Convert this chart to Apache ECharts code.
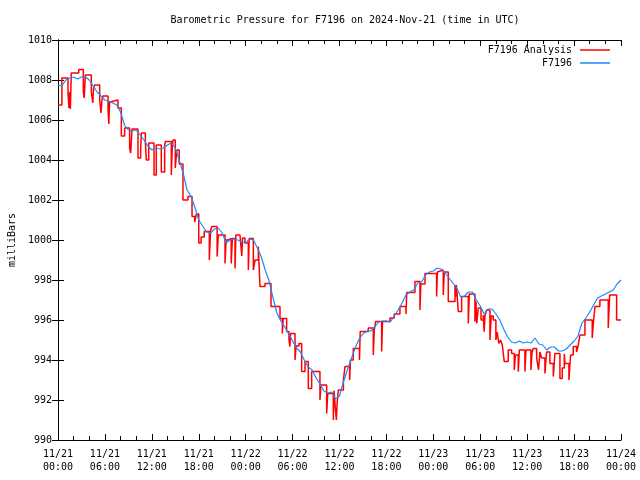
<!DOCTYPE html>
<html>
<head>
<meta charset="utf-8">
<script src="https://cdn.jsdelivr.net/npm/echarts@6/dist/echarts.min.js"></script>
<style>html,body{margin:0;padding:0;background:#fff}#c{width:640px;height:480px}</style>
</head>
<body>
<div id="c"></div>
<script>
// X tick labels (hours from 2024-11-21 00:00 UTC, every 6 h)
var xDates = ['11/21','11/21','11/21','11/21','11/22','11/22','11/22','11/22','11/23','11/23','11/23','11/23','11/24'];
var xTimes = ['00:00','06:00','12:00','18:00','00:00','06:00','12:00','18:00','00:00','06:00','12:00','18:00','00:00'];

// F7196 (blue), sampled every 0.5 h from 0 to 72 h
var blueStep = 0.5;
var blueValues = [
1007.75,1007.7,1008.0,1008.1,1008.15,1008.05,1008.15,1008.15,1008.0,1007.7,
1007.4,1007.2,1007.0,1006.95,1006.85,1006.75,1006.4,1005.75,1005.5,1005.45,
1005.5,1005.25,1005.0,1004.7,1004.5,1004.6,1004.55,1004.6,1004.75,1004.85,
1004.6,1004.0,1003.35,1002.5,1002.2,1001.65,1001.0,1000.7,1000.4,1000.35,
1000.55,1000.6,1000.35,999.85,1000.0,1000.05,1000.0,999.9,999.85,1000.05,
1000.0,999.6,999.15,998.5,997.95,997.1,996.35,995.95,995.65,995.3,
994.95,994.6,994.4,994.0,993.65,993.5,993.1,992.8,992.45,992.35,
992.4,992.05,992.2,992.9,993.5,994.05,994.6,995.05,995.3,995.45,
995.45,995.65,995.9,995.95,995.95,995.9,996.2,996.5,996.85,997.25,
997.4,997.5,997.85,997.9,998.25,998.4,998.45,998.6,998.55,998.35,
998.1,997.85,997.6,997.15,997.2,997.4,997.4,997.0,996.7,996.3,
996.55,996.55,996.3,996.0,995.55,995.15,994.9,994.85,994.95,994.85,
994.9,994.85,995.1,994.8,994.75,994.5,994.65,994.65,994.45,994.45,
994.55,994.75,994.95,995.2,995.85,996.1,996.4,996.75,997.1,997.2,
997.3,997.4,997.5,997.8,998.0
];

// F7196 Analysis (red), step values: time in hours, value in mb
var redTimes = [
0,0.5,1.28,1.4,1.5,1.58,1.7,2.65,3.24,3.35,3.5,4.26,4.45,4.55,4.7,5.33,5.5,5.62,5.75,6.4,
6.5,6.6,6.75,7.67,8.1,8.52,9.16,9.3,9.46,10.23,10.57,10.66,11.17,11.3,11.6,12.28,12.57,13.21,13.64,13.73,
14.49,14.6,14.7,15.0,15.2,15.5,15.98,16.62,17.14,17.48,17.69,18.0,18.3,18.7,19.35,19.5,19.65,20.35,20.5,20.72,
21.36,21.5,21.78,22.15,22.3,22.64,22.75,23.27,23.5,23.6,23.91,24.34,24.45,24.98,25.2,25.62,25.83,26.47,27.24,28.39,
28.69,28.8,29.24,29.54,29.65,29.75,30.31,30.45,30.82,31.16,31.59,32.01,32.44,33.5,33.62,34.36,34.5,35.21,35.3,35.42,
35.6,35.7,35.85,36.5,36.7,37.3,37.4,37.76,38.55,38.65,39.68,40.32,40.45,40.62,41.39,41.5,42.45,43.0,43.73,44.5,
44.6,45.65,46.29,46.4,46.93,48.42,48.52,48.63,49.27,49.4,49.91,50.77,50.85,50.95,51.19,51.62,52.47,52.6,53.32,53.45,
53.55,53.75,54.1,54.39,54.5,54.6,54.81,55.24,55.4,55.66,56.0,56.15,56.39,56.6,56.82,57.07,57.58,58.01,58.35,58.5,
58.86,59.0,59.71,59.85,60.48,60.62,60.78,61.21,61.45,61.63,61.85,62.27,62.48,62.91,63.34,63.55,64.19,64.49,64.75,64.83,
65.34,65.55,65.89,66.32,66.5,66.75,67.39,68.32,68.5,68.67,69.3,70.37,70.55,71.44,72.0
];
var redValues = [
1006.75,1008.1,1007.35,1006.6,1007.4,1006.55,1008.35,1008.53,1007.4,1007.1,1008.25,1007.4,1006.85,1007.6,1007.75,1007.0,1006.35,1007.0,1007.2,1006.5,
1005.8,1006.9,1007.0,1006.6,1005.2,1005.6,1004.6,1004.35,1005.55,1004.1,1004.5,1005.35,1004.9,1004.0,1004.85,1003.25,1004.75,1003.4,1004.75,1004.92,
1003.25,1004.5,1005.0,1003.6,1004.5,1003.8,1002.0,1002.17,1001.17,1000.9,1001.3,999.85,1000.15,1000.42,999.0,1000.42,1000.67,999.17,1000.25,1000.25,
998.83,1000.0,1000.08,998.83,1000.08,998.58,1000.25,1000.25,999.2,1000.1,999.85,998.5,1000.08,998.5,999.0,999.67,997.67,997.83,996.67,996.08,
995.33,996.08,995.42,995.0,994.67,995.33,994.0,994.7,994.83,993.42,993.92,992.58,993.42,992.0,992.75,991.33,992.33,991.0,992.47,991.83,
991.0,991.83,992.5,993.0,993.67,993.0,994.0,994.58,994.0,995.42,995.6,994.25,995.5,995.92,994.42,995.92,996.1,996.3,996.67,996.3,
997.37,997.92,996.5,997.8,998.33,997.17,998.4,998.5,997.25,998.4,996.92,997.75,997.17,997.75,996.42,997.17,995.83,997.3,995.92,996.92,
995.83,996.6,996.0,996.25,995.42,996.2,996.5,995.0,996.2,996.0,995.0,995.4,994.83,995.0,994.75,993.92,994.5,994.33,993.5,994.25,
993.42,994.5,993.42,994.5,993.5,994.4,994.58,994.1,993.5,994.4,994.1,993.33,994.4,993.83,993.17,994.33,993.08,993.6,994.3,993.83,
993.0,994.25,994.67,994.4,994.67,995.25,996.0,995.1,996.0,996.67,997.0,995.6,997.25,996.0,996.0
];

var FONT = '"DejaVu Sans Mono", "Liberation Mono", monospace';

var blueData = blueValues.map(function (v, i) { return [i * blueStep, v]; });
var redData = redTimes.map(function (t, i) { return [t, redValues[i]]; });

var chart = echarts.init(document.getElementById('c'), null, { renderer: 'canvas' });
var xCommon = {
  type: 'value', min: 0, max: 72, interval: 6,
  axisLine: { show: true, lineStyle: { color: '#000', width: 1 } },
  axisTick: { show: true, inside: true, length: 6, lineStyle: { color: '#000' } },
  minorTick: { show: true, splitNumber: 3, length: 4, lineStyle: { color: '#000' } },
  splitLine: { show: false }
};
var yCommon = {
  type: 'value', min: 990, max: 1010, interval: 2,
  axisLine: { show: true, lineStyle: { color: '#000', width: 1 } },
  axisTick: { show: true, inside: true, length: 6, lineStyle: { color: '#000' } },
  splitLine: { show: false }
};
chart.setOption({
  animation: false,
  backgroundColor: '#fff',
  title: {
    text: 'Barometric Pressure for F7196 on 2024-Nov-21 (time in UTC)',
    left: 340, top: 10, textAlign: 'center',
    textStyle: { fontFamily: FONT, fontSize: 10, fontWeight: 'normal', color: '#000' }
  },
  legend: {
    orient: 'vertical', right: 30, top: 45, align: 'right', padding: 0,
    itemWidth: 30, itemHeight: 1.5, itemGap: 3,
    icon: 'rect',
    textStyle: { fontFamily: FONT, fontSize: 10, color: '#000', padding: [0, 3, 0, 0] },
    data: ['F7196 Analysis', 'F7196']
  },
  grid: { left: 58, right: 19, top: 40, bottom: 40, containLabel: false, outerBoundsMode: 'none' },
  xAxis: [
    Object.assign({}, xCommon, {
      position: 'bottom',
      axisLabel: {
        show: true, margin: 8, fontFamily: FONT, fontSize: 10, color: '#000', lineHeight: 13,
        formatter: function (v) { var i = Math.round(v / 6); return xDates[i] + '\n' + xTimes[i]; }
      }
    }),
    Object.assign({}, xCommon, { position: 'top', axisLabel: { show: false } })
  ],
  yAxis: [
    Object.assign({}, yCommon, {
      position: 'left',
      name: 'milliBars', nameLocation: 'middle', nameGap: 40, nameRotate: 90,
      nameTextStyle: { fontFamily: FONT, fontSize: 10, color: '#000' },
      axisLabel: { show: true, margin: 6, fontFamily: FONT, fontSize: 10, color: '#000',
        formatter: function (v) { return String(v); } }
    }),
    Object.assign({}, yCommon, { position: 'right', axisLabel: { show: false } })
  ],
  series: [
    {
      name: 'F7196 Analysis', type: 'line', step: 'end', data: redData,
      xAxisIndex: 0, yAxisIndex: 0,
      showSymbol: false, symbol: 'none',
      lineStyle: { color: '#ff0000', width: 1.5 }, itemStyle: { color: '#ff0000' }
    },
    {
      name: 'F7196', type: 'line', data: blueData,
      xAxisIndex: 0, yAxisIndex: 0,
      showSymbol: false, symbol: 'none',
      lineStyle: { color: '#1e88ff', width: 1.2 }, itemStyle: { color: '#1e88ff' }
    }
  ]
});
</script>
</body>
</html>
